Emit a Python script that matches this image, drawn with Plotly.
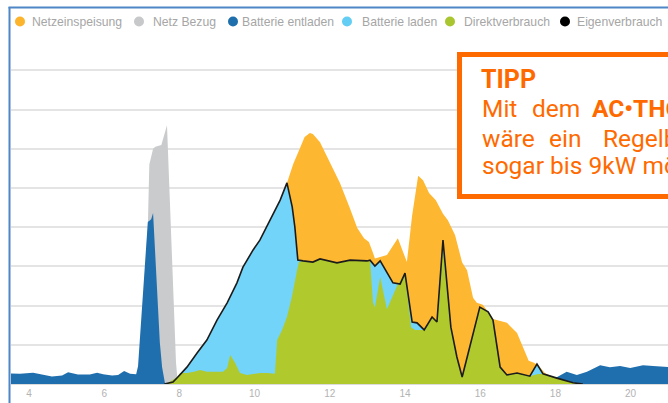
import plotly.graph_objects as go

# ---------------- data (hours of day, kW) ----------------
hours_entladen = [3.52, 3.76, 4.11, 4.35, 4.61, 4.88, 5.04, 5.30, 5.62, 5.81, 5.97, 6.21, 6.37, 6.53,
                  6.69, 6.85, 6.90, 7.16, 7.25, 7.30, 7.48, 7.54, 7.62,
                  17.90, 18.00, 18.30, 18.57, 18.84, 19.19, 19.45, 19.72, 19.99, 20.33, 20.60, 21.00]
batterie_entladen = [0.27, 0.26, 0.29, 0.24, 0.19, 0.22, 0.30, 0.24, 0.24, 0.29, 0.25, 0.22, 0.23, 0.33,
                     0.26, 0.25, 0.45, 4.13, 4.20, 4.36, 1.05, 0.43, 0.0,
                     0.0, 0.15, 0.31, 0.23, 0.31, 0.48, 0.43, 0.46, 0.41, 0.48, 0.46, 0.43]

hours_bezug = [6.90, 7.16, 7.20, 7.30, 7.36, 7.52, 7.67, 7.91, 7.96]
netz_bezug = [0.0, 4.0, 5.6, 6.0, 6.05, 6.1, 6.6, 0.54, 0.0]

hours_einspeisung = [10.86, 11.03, 11.20, 11.33, 11.47, 11.55, 11.74, 12.00, 12.27, 12.54, 12.73, 12.91,
                     13.04, 13.15, 13.20, 13.34, 13.52, 13.81, 14.05, 14.19, 14.35, 14.48, 14.64, 14.82,
                     15.01, 15.14, 15.33, 15.52, 15.65, 15.73, 15.81, 15.91, 16.07, 16.34, 16.71, 16.98,
                     17.13, 17.29, 17.43, 17.56, 17.72, 17.99, 18.47, 18.73]
netzeinspeisung_top = [5.13, 5.62, 6.00, 6.30, 6.40, 6.38, 6.17, 5.66, 5.13, 4.47, 3.98, 3.72,
                       3.62, 3.34, 3.20, 3.24, 3.29, 3.72, 3.11, 4.30, 5.31, 5.20, 4.87, 4.69,
                       4.34, 4.18, 3.80, 3.10, 2.90, 2.55, 2.20, 2.07, 2.02, 1.66, 1.56, 1.30,
                       0.94, 0.59, 0.54, 0.46, 0.28, 0.15, 0.03, 0.0]

hours_eigen = [7.60, 7.67, 7.83, 7.96, 8.20, 8.47, 8.73, 9.00, 9.16, 9.27, 9.53, 9.69, 9.96, 10.14,
               10.41, 10.68, 10.86, 11.00, 11.07, 11.15, 11.29, 11.55, 11.74, 12.19, 12.54, 12.99,
               13.07, 13.20, 13.34, 13.52, 13.68, 13.87, 14.00, 14.19, 14.32, 14.51, 14.72, 14.85,
               15.01, 15.22, 15.38, 15.52, 15.99, 16.21, 16.34, 16.53, 16.71, 16.98, 17.32, 17.51,
               17.67, 18.04, 18.47, 18.73]
eigenverbrauch = [0.0, 0.01, 0.05, 0.18, 0.43, 0.79, 1.12, 1.63, 1.89, 2.07, 2.58, 2.98, 3.42, 3.67,
                  4.18, 4.69, 5.13, 4.52, 4.01, 3.16, 3.14, 3.11, 3.19, 3.09, 3.16, 3.14,
                  3.16, 3.01, 3.14, 2.83, 2.58, 2.55, 2.83, 1.58, 1.56, 1.38, 1.71, 1.58,
                  3.67, 1.45, 0.69, 0.18, 1.96, 1.84, 1.63, 0.43, 0.23, 0.28, 0.20, 0.51,
                  0.26, 0.15, 0.03, 0.0]

hours_direkt = [7.60, 7.67, 7.94, 8.02, 8.20, 8.39, 8.55, 8.73, 9.00, 9.16, 9.27, 9.35, 9.48, 9.61,
                9.80, 10.14, 10.34, 10.54, 10.60, 10.73, 10.86, 10.99, 11.13, 11.18, 11.29, 11.55,
                11.74, 12.19, 12.54, 12.99, 13.07, 13.15, 13.20, 13.34, 13.52, 13.81, 14.00, 14.16,
                14.27, 14.51, 14.72, 14.85, 15.01, 15.22, 15.38, 15.52, 15.99, 16.21, 16.34, 16.53,
                16.71, 16.98, 17.32, 17.51, 17.67, 18.04, 18.47, 18.73]
direktverbrauch = [0.0, 0.01, 0.18, 0.28, 0.28, 0.31, 0.36, 0.31, 0.31, 0.31, 0.41, 0.74, 0.54, 0.28,
                   0.23, 0.28, 0.28, 0.26, 1.12, 1.38, 1.71, 2.22, 2.91, 3.11, 3.14, 3.11,
                   3.19, 3.09, 3.16, 3.14, 3.16, 2.07, 1.96, 2.73, 1.91, 2.55, 2.83, 1.45,
                   1.38, 1.38, 1.71, 1.58, 3.45, 1.45, 0.69, 0.18, 1.96, 1.84, 1.63, 0.43,
                   0.23, 0.28, 0.20, 0.25, 0.26, 0.15, 0.03, 0.0]

legend_names = ["Netzeinspeisung", "Netz Bezug", "Batterie entladen", "Batterie laden",
                "Direktverbrauch", "Eigenverbrauch"]
legend_colors = ["#FBB42C", "#C6C8CA", "#1F6FAD", "#63CDF3", "#A9C631", "#000000"]

tick_hours = [4, 6, 8, 10, 12, 14, 16, 18, 20]
tick_labels = ["4", "6", "8", "10", "12", "14", "16", "18", "20"]

tip_title = "TIPP"
tip_lines = [
    ["Mit", "dem", "<b>AC•THOR 9s</b>"],
    ["wäre", "ein", "Regelbereich"],
    ["sogar bis 9kW möglich"],
]

# ---------------- colours ----------------
C_ORANGE = "#FDB731"
C_GRAY = "#C9CBCD"
C_DBLUE = "#1F6FAE"
C_LBLUE = "#72D4F8"
C_GREEN = "#B0CA2E"
C_TIP = "#FF6A00"

# ---------------- layout geometry (pixels) ----------------
W, H = 668, 403
L, T, B = 11, 33, 19
PLOT_W = W - L
PLOT_H = H - T - B
PX_PER_H = 37.6
PX_PER_KW = 39.2
x0_hour = 4 - (29 - L) / PX_PER_H
x_range = [x0_hour, x0_hour + PLOT_W / PX_PER_H]
y_range = [0, PLOT_H / PX_PER_KW]


def px(x):
    return (x - L) / PLOT_W


def py(y):
    return (H - B - y) / PLOT_H


fig = go.Figure()


def area(xs, ys, color):
    fig.add_trace(go.Scatter(x=xs, y=ys, mode="lines", fill="tozeroy", fillcolor=color,
                             line=dict(width=0, color=color), showlegend=False, hoverinfo="skip"))


area(hours_bezug, netz_bezug, C_GRAY)
area(hours_entladen, batterie_entladen, C_DBLUE)
area(hours_einspeisung, netzeinspeisung_top, C_ORANGE)
area(hours_eigen, eigenverbrauch, C_LBLUE)
area(hours_direkt, direktverbrauch, C_GREEN)
fig.add_trace(go.Scatter(x=hours_eigen, y=eigenverbrauch, mode="lines",
                         line=dict(color="#1b1b1b", width=1.6), showlegend=False, hoverinfo="skip"))

shapes = []
annotations = []

# legend (manual, circle markers)
legend_dot_x = [20, 139, 233, 347, 450, 565]
legend_text_x = [30, 151, 240, 360, 462, 575]
for name, col, dx, tx in zip(legend_names, legend_colors, legend_dot_x, legend_text_x):
    shapes.append(dict(type="circle", xref="paper", yref="paper", xsizemode="pixel", ysizemode="pixel",
                       xanchor=px(dx), yanchor=py(21.5), x0=-5, x1=5, y0=-5, y1=5,
                       fillcolor=col, line=dict(width=0)))
    annotations.append(dict(text=name, xref="paper", yref="paper", x=px(tx), y=py(21.5),
                            xanchor="left", yanchor="middle", showarrow=False,
                            font=dict(family="Liberation Sans, Arial", size=12.2, color="#a6a6a6")))

# outer blue frame
shapes.append(dict(type="line", xref="paper", yref="paper", x0=px(9.5), x1=px(9.5), y0=py(420), y1=py(7),
                   line=dict(color="#4F86C6", width=2)))
shapes.append(dict(type="line", xref="paper", yref="paper", x0=px(8.5), x1=px(720), y0=py(7.5), y1=py(7.5),
                   line=dict(color="#4F86C6", width=2)))

# tip box
shapes.append(dict(type="rect", xref="paper", yref="paper", x0=px(459.5), x1=px(740), y0=py(196.5),
                   y1=py(54.5), fillcolor="white", line=dict(color=C_TIP, width=5), layer="above"))

annotations.append(dict(text="<b>" + tip_title + "</b>", xref="paper", yref="paper", x=px(479), y=py(79),
                        xanchor="left", yanchor="middle", showarrow=False,
                        font=dict(family="Roboto", size=25, color=C_TIP)))
word_x = [[482, 532, 592], [482, 549, 603], [482]]
line_y = [109, 138, 166]
for words, xs, ly in zip(tip_lines, word_x, line_y):
    for w_, wx in zip(words, xs):
        annotations.append(dict(text=w_, xref="paper", yref="paper", x=px(wx - 2), y=py(ly),
                                xanchor="left", yanchor="middle", showarrow=False,
                                font=dict(family="Roboto", size=24.5, color=C_TIP)))

fig.update_layout(
    width=W, height=H, margin=dict(l=L, r=0, t=T, b=B, pad=0),
    paper_bgcolor="white", plot_bgcolor="white", showlegend=False,
    xaxis=dict(range=x_range, tickvals=tick_hours, ticktext=tick_labels, showgrid=False, zeroline=False,
               showline=True, linecolor="#dcdcdc", linewidth=1, ticks="",
               tickfont=dict(family="Liberation Sans, Arial", size=10, color="#b3b3b3")),
    yaxis=dict(range=y_range, dtick=1, showgrid=True, gridcolor="#e4e4e4", gridwidth=1.5,
               zeroline=False, showticklabels=False, ticks=""),
    shapes=shapes, annotations=annotations,
)

fig.write_html("out.html", config={"displayModeBar": False},
               post_script="document.body.style.margin='0';document.body.style.overflow='hidden';")
